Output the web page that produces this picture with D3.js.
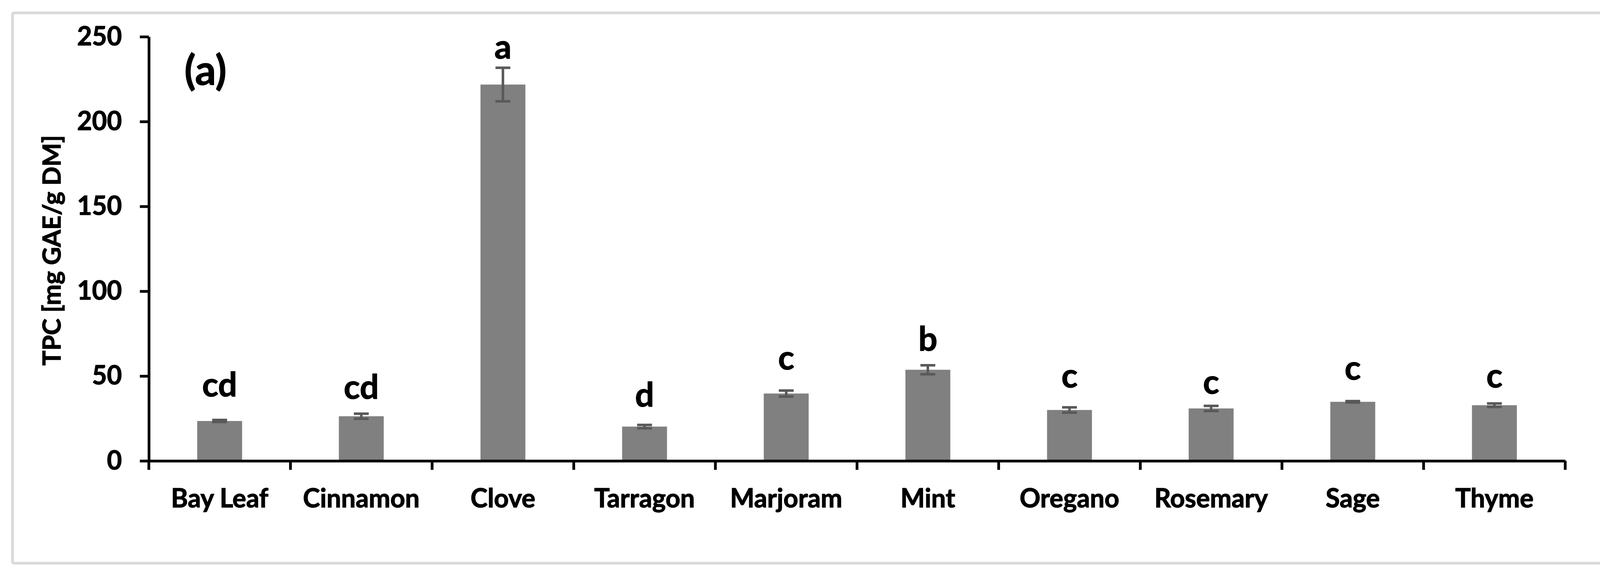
<!DOCTYPE html>
<html>
<head>
<meta charset="utf-8">
<script src="https://cdn.jsdelivr.net/npm/d3@7/dist/d3.min.js"></script>
<style>
  html, body { margin: 0; padding: 0; background: #fff; overflow: hidden; }
  svg { display: block; }
  text { font-family: Lato, "Open Sans", sans-serif; font-weight: 700; fill: #000; stroke: #000; stroke-width: 1.5px; }
</style>
</head>
<body>
<script>
// spices and their total phenolic content (mg GAE / g DM)
const categories = ["Bay Leaf", "Cinnamon", "Clove", "Tarragon", "Marjoram", "Mint", "Oregano", "Rosemary", "Sage", "Thyme"];
const tpcValues = [23.5, 26.3, 221.8, 20.2, 39.7, 53.7, 30.0, 30.9, 34.8, 32.8];
const tpcErrors = [0.6, 1.5, 9.9, 1.0, 1.75, 2.65, 1.55, 1.5, 0.4, 1.05];
// significance letters and the value (in axis units) where each one sits
const groupLetters = ["cd", "cd", "a", "d", "c", "b", "c", "c", "c", "c"];
const letterAt = [37.9, 36.7, 237.1, 32.1, 53.8, 65.0, 43.3, 39.6, 47.9, 43.2];
const yTicks = [0, 50, 100, 150, 200, 250];

const W = 4151, H = 1462;
const plotLeft = 381, plotRight = 4007, plotTop = 94, plotBottom = 1180;

var svg = d3.select("body").append("svg")
  .attr("width", W)
  .attr("height", H);

// light grey frame around the whole figure
svg.append("rect")
  .attr("x", 32).attr("y", 33)
  .attr("width", 4092).attr("height", 1409)
  .attr("rx", 4)
  .attr("fill", "#fff")
  .attr("stroke", "#d9d9d9")
  .attr("stroke-width", 7);

var pad = 0.683;
var x = d3.scaleBand()
  .domain(categories)
  .range([plotLeft, plotRight])
  .paddingInner(pad)
  .paddingOuter(pad / 2);

var y = d3.scaleLinear()
  .domain([0, 250])
  .range([plotBottom, plotTop]);

// bars
svg.selectAll("rect.bar")
  .data(categories)
  .enter().append("rect")
  .attr("class", "bar")
  .attr("x", d => x(d))
  .attr("width", x.bandwidth())
  .attr("y", (d, i) => y(tpcValues[i]))
  .attr("height", (d, i) => y(0) - y(tpcValues[i]))
  .attr("fill", "#808080");

// error bars
var capW = 38;
var err = svg.append("g")
  .attr("stroke", "#595959")
  .attr("stroke-width", 6.5);
categories.forEach(function(c, i) {
  var cx = x(c) + x.bandwidth() / 2;
  var hi = y(tpcValues[i] + tpcErrors[i]);
  var lo = y(tpcValues[i] - tpcErrors[i]);
  err.append("line").attr("x1", cx).attr("x2", cx).attr("y1", hi).attr("y2", lo);
  err.append("line").attr("x1", cx - capW / 2).attr("x2", cx + capW / 2).attr("y1", hi).attr("y2", hi);
  err.append("line").attr("x1", cx - capW / 2).attr("x2", cx + capW / 2).attr("y1", lo).attr("y2", lo);
});

// y axis
var yAxis = svg.append("g")
  .attr("transform", "translate(" + plotLeft + ",0)")
  .call(d3.axisLeft(y).tickValues(yTicks).tickSize(23).tickSizeOuter(0).tickPadding(46));

// x axis: labels from the band scale, ticks at the category boundaries
var xAxis = svg.append("g")
  .attr("transform", "translate(0," + plotBottom + ")")
  .call(d3.axisBottom(x).tickSize(0).tickSizeOuter(0).tickPadding(72));

var bounds = d3.range(categories.length + 1).map(i => plotLeft + i * x.step());
xAxis.selectAll("line.bound")
  .data(bounds)
  .enter().append("line")
  .attr("class", "bound")
  .attr("x1", d => d).attr("x2", d => d)
  .attr("y1", 0).attr("y2", 23)
  .attr("stroke", "#000")
  .attr("stroke-width", 7);

[yAxis, xAxis].forEach(function(g) {
  g.select(".domain").attr("stroke", "#000").attr("stroke-width", 7);
  g.selectAll(".tick line").attr("stroke", "#000").attr("stroke-width", 7);
  g.selectAll("text")
    .attr("fill", "#000")
    .style("font-family", "Lato, 'Open Sans', sans-serif")
    .style("font-weight", 700)
    .style("font-size", "66px");
});

// significance letters
svg.selectAll("text.letter")
  .data(categories)
  .enter().append("text")
  .attr("class", "letter")
  .attr("x", d => x(d) + x.bandwidth() / 2)
  .attr("y", (d, i) => y(letterAt[i]))
  .attr("text-anchor", "middle")
  .style("font-size", "86px")
  .text((d, i) => groupLetters[i]);

// panel label
svg.append("text")
  .attr("x", 472)
  .attr("y", 217)
  .style("font-size", "106px")
  .text("(a)");

// y axis title
svg.append("text")
  .attr("transform", "translate(155," + ((plotTop + plotBottom) / 2 + 4) + ") rotate(-90)")
  .attr("text-anchor", "middle")
  .style("font-size", "64px")
  .text("TPC [mg GAE/g DM]");
</script>
</body>
</html>
